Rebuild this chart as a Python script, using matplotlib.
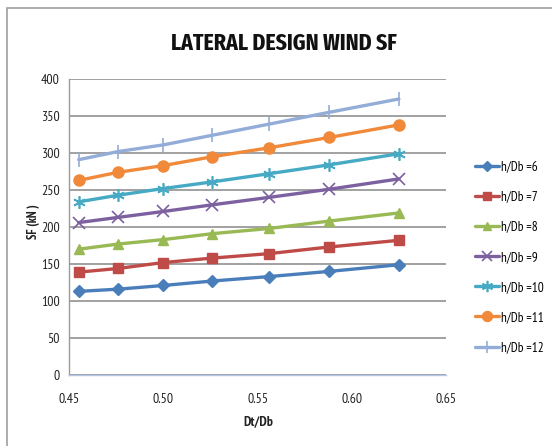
import matplotlib
matplotlib.use("Agg")
import matplotlib.pyplot as plt
from matplotlib.patches import Rectangle

# Dt/Db ratios (Db / Dt = 2.2 ... 1.6)
dt_db = [0.455, 0.476, 0.500, 0.526, 0.556, 0.588, 0.625]

# Lateral design wind shear force (kN) for each h/Db ratio
sf_h6 = [113, 116, 121, 127, 133, 140, 149]
sf_h7 = [139, 144, 152, 158, 164, 173, 182]
sf_h8 = [170, 177, 183, 191, 198, 208, 219]
sf_h9 = [206, 213, 221, 230, 240, 251, 265]
sf_h10 = [234, 243, 252, 261, 272, 284, 299]
sf_h11 = [263, 274, 283, 295, 307, 321, 338]
sf_h12 = [291, 302, 311, 324, 339, 355, 373]

series_labels = ["h/Db =6", "h/Db =7", "h/Db =8", "h/Db =9",
                 "h/Db =10", "h/Db =11", "h/Db =12"]
x_ticks = [0.45, 0.50, 0.55, 0.60, 0.65]
y_ticks = [0, 50, 100, 150, 200, 250, 300, 350, 400]

plt.rcParams["font.family"] = ["PT Sans Narrow", "Carlito", "DejaVu Sans"]

fig = plt.figure(figsize=(5.52, 4.46), dpi=100)
fig.patch.set_facecolor("white")

# chart-area frame
fig.patches.append(Rectangle((7 / 552, -0.1), 1.2, 1 - 8 / 446 + 0.1,
                             transform=fig.transFigure, fill=False,
                             edgecolor="#9e9e9e", linewidth=1.2))

ax = fig.add_axes([69.3 / 552, 1 - 375 / 446, (446 - 69.3) / 552, (375 - 79) / 446])

styles = [
    ("#4A7EBB", "D", 6, 1.0),
    ("#BE4B48", "s", 7, 1.0),
    ("#98B954", "^", 7, 1.0),
    ("#7D60A0", "x", 8, 1.2),
    ("#46AAC5", (6, 2, 0), 9, 1.2),
    ("#F08A3A", "o", 8, 1.0),
    ("#93ADD8", "|", 10, 1.2),
]
series = [sf_h6, sf_h7, sf_h8, sf_h9, sf_h10, sf_h11, sf_h12]

for vals, label, (col, mk, ms, mew) in zip(series, series_labels, styles):
    ax.plot(dt_db, vals, color=col, linewidth=2.4, marker=mk, markersize=ms,
            markeredgewidth=mew, markeredgecolor=col, markerfacecolor=col,
            label=label, solid_capstyle="round")

ax.set_xlim(0.45, 0.65)
ax.set_ylim(0, 400)
ax.set_xticks(x_ticks)
ax.set_xticklabels([f"{t:.2f}" for t in x_ticks])
ax.set_yticks(y_ticks)
ax.set_yticklabels([str(t) for t in y_ticks])
ax.tick_params(axis="both", length=0, labelsize=10, colors="#222222")
ax.tick_params(axis="x", pad=13)
ax.tick_params(axis="y", pad=7)

ax.grid(axis="y", color="#9a9a9a", linewidth=1.3)
ax.set_axisbelow(True)
for side in ("top", "right"):
    ax.spines[side].set_visible(False)
ax.spines["left"].set_color("#9a9a9a")
ax.spines["left"].set_linewidth(1.0)
ax.spines["bottom"].set_color("#b4c6e7")
ax.spines["bottom"].set_linewidth(1.0)

fig.text(284 / 552, 1 - 43 / 446, "LATERAL DESIGN WIND SF", ha="center", va="center",
         fontsize=17, fontweight="bold", color="#111111",
         family=["Fira Sans Extra Condensed", "PT Sans Narrow", "DejaVu Sans"])
fig.text(258 / 552, 1 - 422 / 446, "Dt/Db", ha="center", va="center",
         fontsize=10, fontweight="bold", color="#222222")
fig.text(33 / 552, 1 - 222 / 446, "SF (kN )", ha="center", va="center", rotation=90,
         fontsize=9, fontweight="bold", color="#222222")

ax.legend(loc="upper left", bbox_to_anchor=(470 / 552, 1 - 155 / 446),
          bbox_transform=fig.transFigure, frameon=False, fontsize=9.5,
          handlelength=1.8, handletextpad=0.15, labelspacing=1.3,
          borderaxespad=0, markerscale=0.9)

fig.savefig("out.png", dpi=100, facecolor="white")
